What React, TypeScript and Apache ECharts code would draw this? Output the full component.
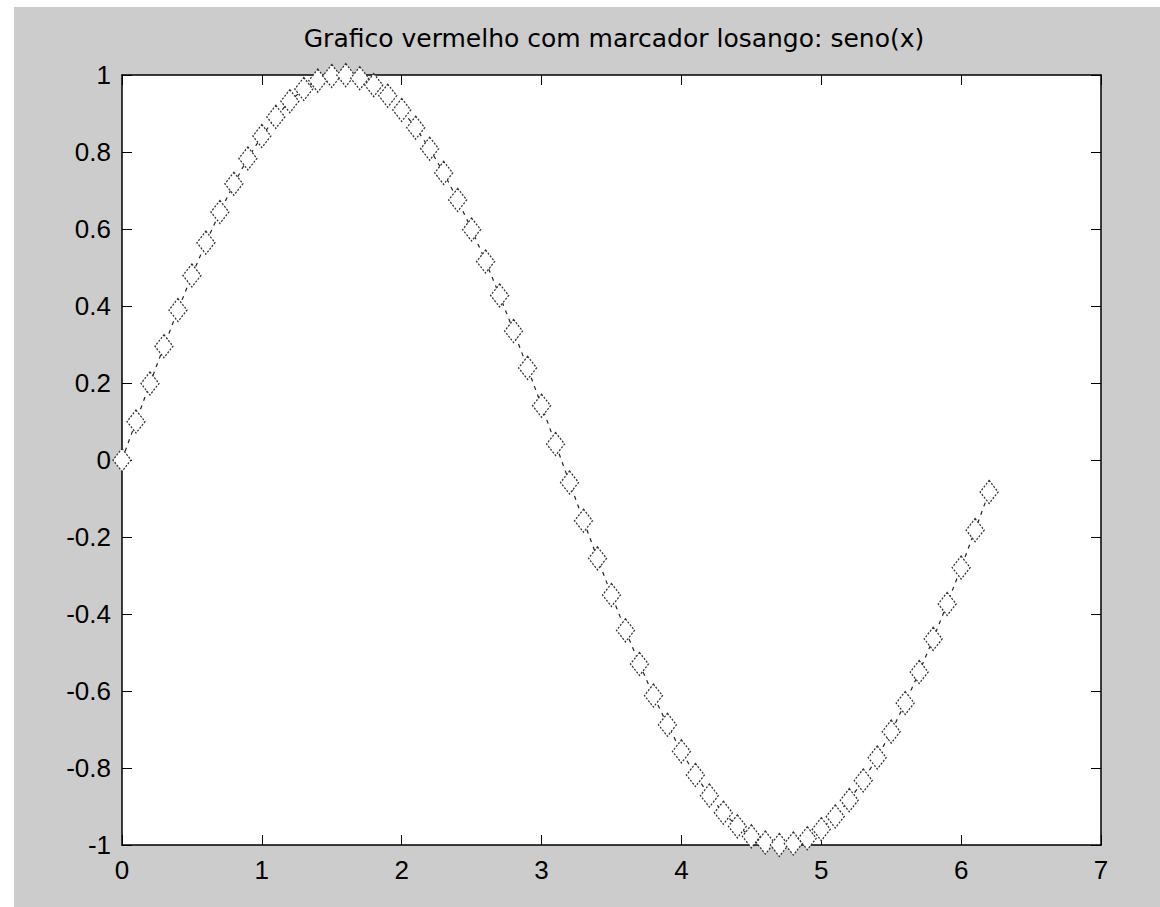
import React, { useEffect, useRef } from "react";
import * as echarts from "echarts";

const titleText = "Grafico vermelho com marcador losango: seno(x)";
const xValues = [
  0, 0.1, 0.2, 0.3, 0.4, 0.5, 0.6, 0.7, 0.8, 0.9, 1.0, 1.1, 1.2, 1.3, 1.4, 1.5, 1.6, 1.7, 1.8, 1.9,
  2.0, 2.1, 2.2, 2.3, 2.4, 2.5, 2.6, 2.7, 2.8, 2.9, 3.0, 3.1, 3.2, 3.3, 3.4, 3.5, 3.6, 3.7, 3.8, 3.9,
  4.0, 4.1, 4.2, 4.3, 4.4, 4.5, 4.6, 4.7, 4.8, 4.9, 5.0, 5.1, 5.2, 5.3, 5.4, 5.5, 5.6, 5.7, 5.8, 5.9,
  6.0, 6.1, 6.2,
];
const yValues = [
  0, 0.0998, 0.1987, 0.2955, 0.3894, 0.4794, 0.5646, 0.6442, 0.7174, 0.7833,
  0.8415, 0.8912, 0.932, 0.9636, 0.9854, 0.9975, 0.9996, 0.9917, 0.9738, 0.9463,
  0.9093, 0.8632, 0.8085, 0.7457, 0.6755, 0.5985, 0.5155, 0.4274, 0.335, 0.2392,
  0.1411, 0.0416, -0.0584, -0.1577, -0.2555, -0.3508, -0.4425, -0.5298, -0.6119, -0.6878,
  -0.7568, -0.8183, -0.8716, -0.9162, -0.9516, -0.9775, -0.9937, -0.9999, -0.9962, -0.9825,
  -0.9589, -0.9258, -0.8835, -0.8323, -0.7728, -0.7055, -0.6313, -0.5507, -0.4646, -0.3739,
  -0.2794, -0.1822, -0.0831,
];
const xTicks = [0, 1, 2, 3, 4, 5, 6, 7];
const yTicks = [-1, -0.8, -0.6, -0.4, -0.2, 0, 0.2, 0.4, 0.6, 0.8, 1];

const LABEL_FONT = "'Liberation Sans', Arial, sans-serif";
const TITLE_FONT = "'DejaVu Sans', 'Liberation Sans', sans-serif";

export default function App() {
  const ref = useRef<HTMLDivElement>(null);
  useEffect(() => {
    if (!ref.current) return;
    const chart = echarts.init(ref.current, null, { renderer: "svg" });
    const axisLine = { show: true, onZero: false, lineStyle: { color: "#000", width: 1.5 } };
    const tick = { show: true, inside: true, length: 10, lineStyle: { color: "#000", width: 1 } };
    const fmt = (v: number) => {
      const r = Math.round(v * 10) / 10;
      return Number.isInteger(r) ? String(r) : r.toFixed(1);
    };
    chart.setOption({
      animation: false,
      backgroundColor: "#ffffff",
      graphic: [
        {
          type: "rect",
          z: -10,
          silent: true,
          shape: { x: 14, y: 7, width: 1146, height: 900 },
          style: { fill: "#cccccc" },
        },
      ],
      title: {
        text: titleText,
        left: 609,
        textAlign: "center",
        top: 21,
        textStyle: { fontFamily: TITLE_FONT, fontSize: 25, fontWeight: "normal", color: "#000" },
      },
      grid: {
        left: 122,
        top: 75,
        right: 59,
        bottom: 62,
        show: true,
        backgroundColor: "#ffffff",
        borderWidth: 0,
      },
      xAxis: [
        {
          type: "value",
          min: xTicks[0],
          max: xTicks[xTicks.length - 1],
          interval: 1,
          position: "bottom",
          axisLine,
          axisTick: tick,
          splitLine: { show: false },
          axisLabel: {
            margin: 12,
            fontFamily: LABEL_FONT,
            fontSize: 26,
            color: "#000",
            formatter: fmt,
          },
        },
        {
          type: "value",
          min: xTicks[0],
          max: xTicks[xTicks.length - 1],
          interval: 1,
          position: "top",
          axisLine,
          axisTick: tick,
          splitLine: { show: false },
          axisLabel: { show: false },
        },
      ],
      yAxis: [
        {
          type: "value",
          min: yTicks[0],
          max: yTicks[yTicks.length - 1],
          interval: 0.2,
          position: "left",
          axisLine,
          axisTick: tick,
          splitLine: { show: false },
          axisLabel: {
            margin: 11,
            fontFamily: LABEL_FONT,
            fontSize: 26,
            color: "#000",
            formatter: fmt,
          },
        },
        {
          type: "value",
          min: yTicks[0],
          max: yTicks[yTicks.length - 1],
          interval: 0.2,
          position: "right",
          axisLine,
          axisTick: tick,
          splitLine: { show: false },
          axisLabel: { show: false },
        },
      ],
      series: [
        {
          type: "line",
          data: xValues.map((x, i) => [x, yValues[i]]),
          clip: false,
          symbol: "diamond",
          symbolSize: [18, 23],
          showAllSymbol: true,
          lineStyle: { color: "#222", width: 1.2, type: [4, 5] },
          itemStyle: { color: "#ffffff", borderColor: "#333", borderWidth: 1.3, borderType: [2, 1.5] },
          z: 5,
        },
      ],
    });
    return () => chart.dispose();
  }, []);
  return (
    <div
      ref={ref}
      style={{ position: "fixed", left: 0, top: 0, width: 1160, height: 907, background: "#fff" }}
    />
  );
}
